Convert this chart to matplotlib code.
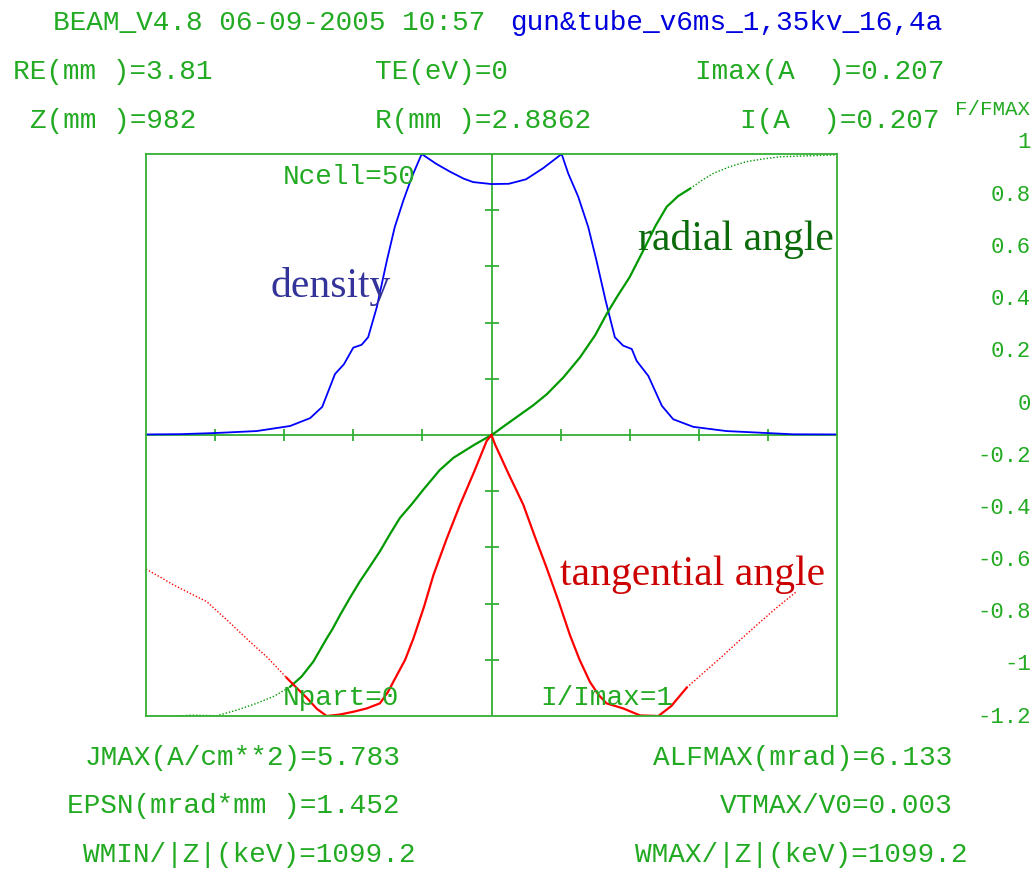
'''
BEAM_V4.8 output: density, radial and tangential angle across the beam
'''

import matplotlib
matplotlib.use('Agg')
import matplotlib.pyplot as plt

WIDTH, HEIGHT = 1034, 874

# density profile F/FMAX
density_x = [-1.0, -0.9, -0.8, -0.68, -0.583, -0.525, -0.49, -0.453, -0.427,
             -0.40, -0.376, -0.357, -0.332, -0.303, -0.28, -0.255, -0.23,
             -0.202, -0.16, -0.12, -0.08, -0.053, 0.0, 0.05, 0.1, 0.15,
             0.203, 0.222, 0.251, 0.28, 0.304, 0.33, 0.357, 0.381, 0.406,
             0.42, 0.454, 0.493, 0.526, 0.584, 0.68, 0.873, 1.0]
density_y = [0.002, 0.003, 0.007, 0.014, 0.032, 0.06, 0.10, 0.217, 0.252,
             0.311, 0.321, 0.348, 0.455, 0.62, 0.74, 0.835, 0.92, 1.0,
             0.965, 0.937, 0.912, 0.90, 0.893, 0.894, 0.91, 0.95, 1.0,
             0.931, 0.848, 0.74, 0.62, 0.48, 0.348, 0.318, 0.306, 0.264,
             0.21, 0.104, 0.056, 0.029, 0.014, 0.0025, 0.002]

# radial angle, right half (positive) and left half (negative)
radial_right_x = [0.0, 0.01, 0.04, 0.08, 0.12, 0.16, 0.208, 0.256, 0.30,
                  0.333, 0.365, 0.40, 0.449, 0.475, 0.507, 0.54, 0.575,
                  0.61, 0.642, 0.69, 0.739, 0.79, 0.835, 0.9, 0.98, 1.0]
radial_right_y = [0.0, 0.008, 0.035, 0.07, 0.105, 0.145, 0.205, 0.276,
                  0.355, 0.43, 0.495, 0.562, 0.68, 0.745, 0.812, 0.85,
                  0.877, 0.907, 0.931, 0.955, 0.973, 0.983, 0.99, 0.993,
                  0.996, 0.997]
radial_left_x = [-1.0, -0.9, -0.87, -0.795, -0.74, -0.68, -0.63, -0.583,
                 -0.55, -0.516, -0.477, -0.46, -0.438, -0.41, -0.381,
                 -0.352, -0.323, -0.295, -0.265, -0.23, -0.197, -0.15,
                 -0.11, -0.05, 0.0]
radial_left_y = [-1.0, -1.0, -0.997, -0.999, -0.98, -0.955, -0.93, -0.896,
                 -0.86, -0.807, -0.724, -0.69, -0.64, -0.58, -0.521,
                 -0.468, -0.414, -0.355, -0.295, -0.245, -0.194, -0.125,
                 -0.081, -0.035, 0.0]

# tangential angle
tangential_left_x = [-1.0, -0.96, -0.921, -0.87, -0.824, -0.76, -0.699,
                     -0.65, -0.593, -0.56, -0.535, -0.505, -0.477, -0.44,
                     -0.40, -0.361, -0.323, -0.30, -0.274, -0.25, -0.226,
                     -0.195, -0.168, -0.13, -0.091, -0.05, -0.014, 0.0]
tangential_left_y = [-0.477, -0.505, -0.533, -0.565, -0.593, -0.665, -0.736,
                     -0.79, -0.864, -0.905, -0.935, -0.975, -1.0, -0.995,
                     -0.985, -0.973, -0.955, -0.915, -0.855, -0.80, -0.724,
                     -0.61, -0.498, -0.37, -0.248, -0.13, -0.021, 0.0]
tangential_right_x = [0.0, 0.01, 0.05, 0.092, 0.125, 0.16, 0.195, 0.227,
                      0.255, 0.285, 0.31, 0.333, 0.381, 0.43, 0.483, 0.52,
                      0.565, 0.61, 0.661, 0.71, 0.768, 0.82, 0.883]
tangential_right_y = [0.0, -0.033, -0.14, -0.248, -0.36, -0.474, -0.595,
                      -0.712, -0.80, -0.879, -0.925, -0.955, -0.973, -0.998,
                      -1.0, -0.965, -0.899, -0.85, -0.795, -0.74, -0.676,
                      -0.62, -0.557]

# F/FMAX scale labels on the right
scale_labels = ['1', '0.8', '0.6', '0.4', '0.2', '0', '-0.2', '-0.4', '-0.6',
                '-0.8', '-1', '-1.2']

header_left = 'BEAM_V4.8 06-09-2005 10:57'
header_right = 'gun&tube_v6ms_1,35kv_16,4a'
top_params = [('RE(mm )=3.81', 13, 79), ('TE(eV)=0', 375, 79),
              ('Imax(A  )=0.207', 695, 79), ('Z(mm )=982', 30, 128),
              ('R(mm )=2.8862', 375, 128), ('I(A  )=0.207', 740, 128)]
bottom_params = [('JMAX(A/cm**2)=5.783', 85, 765),
                 ('ALFMAX(mrad)=6.133', 653, 765),
                 ('EPSN(mrad*mm )=1.452', 67, 813),
                 ('VTMAX/V0=0.003', 720, 813),
                 ('WMIN/|Z|(keV)=1099.2', 83, 862),
                 ('WMAX/|Z|(keV)=1099.2', 635, 862)]

GREEN_TEXT = '#22aa22'
FRAME = '#33b033'
MONO = 'Liberation Mono'
SERIF = 'Liberation Serif'


def put(fig, text, x, y, **kwargs):
    '''
    Place a text at pixel position x, y (y measured from the top)
    '''
    kwargs.setdefault('color', GREEN_TEXT)
    kwargs.setdefault('family', MONO)
    kwargs.setdefault('fontsize', 20)
    kwargs.setdefault('va', 'baseline')
    fig.text(x / WIDTH, 1 - y / HEIGHT, text, **kwargs)


def split_plot(ax, xs, ys, cut, color, dotted_side):
    '''
    Draw a curve solid in the middle and dotted towards the edge
    '''
    if dotted_side == 'left':
        solid = [(x, y) for x, y in zip(xs, ys) if x >= cut]
        dotted = [(x, y) for x, y in zip(xs, ys) if x <= cut]
    else:
        solid = [(x, y) for x, y in zip(xs, ys) if x <= cut]
        dotted = [(x, y) for x, y in zip(xs, ys) if x >= cut]
    ax.plot([p[0] for p in solid], [p[1] for p in solid], color=color, lw=1.6)
    ax.plot([p[0] for p in dotted], [p[1] for p in dotted], color=color,
            lw=1.0, linestyle=(0, (1, 1.4)))


def plot_beam():
    '''
    Draw the frame, the curves and all the labels
    '''
    fig = plt.figure(figsize=(WIDTH / 100, HEIGHT / 100), dpi=100)
    ax = fig.add_axes([146 / WIDTH, 1 - 716 / HEIGHT,
                       691 / WIDTH, 562 / HEIGHT])
    ax.set_xlim(-1, 1)
    ax.set_ylim(-1, 1)
    ax.set_xticks([])
    ax.set_yticks([])
    for spine in ax.spines.values():
        spine.set_color(FRAME)
        spine.set_linewidth(1.3)

    ax.axhline(0, color=FRAME, lw=1.3)
    ax.axvline(0, color=FRAME, lw=1.3)
    ticks = [-0.8, -0.6, -0.4, -0.2, 0.2, 0.4, 0.6, 0.8]
    ax.plot(ticks, [0] * len(ticks), ls='none', marker='|', ms=8,
            mew=1.3, color=FRAME)
    ax.plot([0] * len(ticks), ticks, ls='none', marker='_', ms=10,
            mew=1.3, color=FRAME)

    ax.plot(density_x, density_y, color='#0000ff', lw=1.3)
    split_plot(ax, radial_right_x, radial_right_y, 0.575, '#009900', 'right')
    split_plot(ax, radial_left_x, radial_left_y, -0.583, '#009900', 'left')
    split_plot(ax, tangential_left_x, tangential_left_y, -0.593, '#ff0000',
               'left')
    split_plot(ax, tangential_right_x, tangential_right_y, 0.565, '#ff0000',
               'right')

    put(fig, 'density', 270, 297, family=SERIF, fontsize=30, color='#333399')
    put(fig, 'radial angle', 638, 250, family=SERIF, fontsize=30,
        color='#0b6b0b')
    put(fig, 'tangential angle', 560, 585, family=SERIF, fontsize=30,
        color='#cc0000')
    put(fig, 'Ncell=50', 283, 184)
    put(fig, 'Npart=0', 283, 705)
    put(fig, 'I/Imax=1', 540, 705)

    put(fig, header_left, 53, 30)
    put(fig, header_right, 510, 30, color='#0000dd')
    for text, x, y in top_params + bottom_params:
        put(fig, text, x, y)

    put(fig, 'F/FMAX', 955, 115, fontsize=15)
    for i, label in enumerate(scale_labels):
        put(fig, label, 1031, 143 + i * 52.2, fontsize=16, ha='right',
            va='center')

    fig.savefig('out.png', dpi=100)


plot_beam()
